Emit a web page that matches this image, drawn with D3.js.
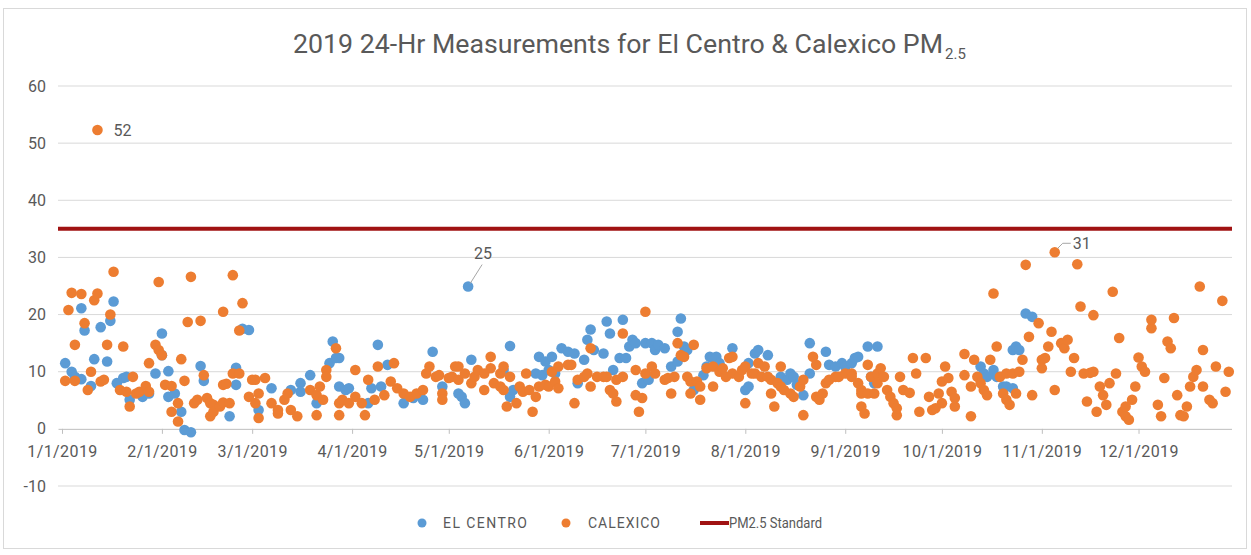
<!doctype html>
<html>
  <head>
    <title>2019 24-Hr Measurements for El Centro & Calexico PM2.5</title>
    <style>
      body { margin: 0; background: #fff; }
      text { font-family: "Roboto", sans-serif; fill: #595959; }
    </style>
  </head>
  <body>
    <div id="chart"></div>
    <script src="https://d3js.org/d3.v7.min.js"></script>
    <script>
      // day offsets from 1/1/2019 and the 24-hr PM2.5 value read for that day
      const elCentroDay = [1, 3, 4, 6, 6, 7, 9, 10, 12, 14, 15, 16, 17, 19, 20, 21, 25, 27, 29, 31, 31, 33, 33, 35, 37, 38, 40, 43, 44, 52,
        54, 54, 56, 58, 61, 65, 71, 74, 74, 77, 79, 83, 84, 85, 86, 86, 88, 89, 95, 96, 98, 99, 101, 106, 109, 112, 115, 118, 123, 124,
        125, 126, 127, 137, 139, 139, 140, 147, 148, 149, 150, 151, 152, 153, 155, 157, 159, 160, 162, 163, 164, 165, 168, 169, 170, 171, 173, 174, 175, 176,
        177, 178, 180, 181, 182, 183, 184, 185, 187, 189, 191, 191, 192, 193, 194, 196, 199, 200, 201, 202, 203, 204, 208, 212, 213, 213, 215, 216, 219, 223,
        225, 226, 227, 228, 230, 232, 232, 237, 238, 240, 242, 243, 245, 246, 247, 250, 251, 252, 253, 285, 286, 287, 289, 290, 292, 293, 295, 295, 296, 297,
        299, 301];
      const elCentroPm = [11.5, 10.0, 9.1, 21.1, 8.7, 17.2, 7.5, 12.2, 17.8, 11.8, 18.9, 22.3, 8.0, 8.9, 9.1, 5.1, 5.6, 6.2, 9.7, 16.7, 12.9, 10.1, 5.6, 6.2, 3.0, -0.2, -0.6, 11.0, 8.4, 2.2,
        7.7, 10.7, 17.5, 17.3, 3.3, 7.1, 6.8, 8.0, 6.5, 9.4, 4.5, 11.5, 15.3, 12.4, 12.4, 7.4, 6.8, 7.1, 4.5, 7.1, 14.7, 7.4, 11.2, 4.5, 5.4, 5.1, 13.5, 7.4, 6.2, 5.6,
        4.5, 24.9, 12.1, 10.3, 14.5, 5.6, 6.8, 9.7, 12.6, 9.4, 11.8, 10.3, 12.6, 9.7, 14.1, 13.5, 13.2, 8.0, 12.1, 15.6, 17.4, 13.8, 13.2, 18.8, 16.7, 10.3, 12.4, 19.1, 12.4, 14.4,
        15.6, 15.0, 8.0, 15.0, 8.6, 15.0, 13.8, 14.7, 14.1, 10.9, 11.8, 17.0, 19.3, 14.4, 13.8, 6.8, 9.4, 10.9, 12.6, 12.4, 12.6, 11.5, 14.1, 6.8, 7.4, 11.5, 13.2, 13.8, 12.9, 9.1,
        8.6, 9.7, 9.1, 7.7, 5.9, 15.0, 9.7, 13.5, 11.2, 10.9, 11.5, 10.9, 11.5, 12.4, 12.6, 14.4, 9.1, 8.0, 14.4, 10.9, 9.7, 9.1, 10.3, 9.1, 7.4, 7.4, 7.1, 13.8, 14.4, 13.8,
        20.2, 19.6];

      const calexicoDay = [1, 2, 3, 4, 4, 6, 7, 8, 9, 10, 11, 11, 12, 13, 14, 15, 16, 18, 19, 20, 21, 22, 23, 24, 26, 27, 27, 29, 30, 30,
        31, 32, 34, 34, 36, 36, 37, 38, 39, 40, 41, 42, 43, 44, 45, 46, 46, 47, 47, 49, 50, 50, 50, 51, 52, 53, 53, 55, 55, 56,
        58, 59, 60, 60, 61, 61, 63, 65, 67, 67, 69, 70, 71, 73, 77, 79, 79, 80, 81, 82, 82, 85, 86, 86, 87, 89, 91, 91, 93, 94,
        95, 97, 98, 100, 102, 103, 104, 106, 108, 110, 112, 113, 114, 116, 117, 118, 118, 120, 121, 122, 123, 123, 125, 127, 128, 129, 131, 131, 133, 133,
        134, 136, 136, 137, 137, 138, 139, 141, 142, 143, 144, 145, 146, 147, 148, 150, 151, 152, 153, 154, 154, 157, 158, 159, 160, 162, 163, 164, 164, 166,
        168, 169, 170, 171, 172, 172, 174, 174, 178, 178, 179, 180, 181, 181, 183, 184, 187, 188, 189, 190, 191, 192, 193, 194, 195, 195, 196, 197, 198, 198,
        200, 202, 202, 204, 205, 206, 207, 208, 208, 210, 211, 212, 212, 214, 215, 216, 217, 218, 219, 220, 220, 221, 222, 223, 223, 224, 226, 227, 229, 230,
        230, 233, 234, 234, 235, 236, 237, 238, 240, 241, 243, 245, 245, 247, 248, 248, 248, 249, 250, 250, 251, 252, 253, 253, 254, 255, 256, 257, 258, 259,
        259, 260, 261, 263, 264, 265, 266, 268, 269, 270, 271, 272, 273, 273, 274, 275, 276, 277, 277, 280, 280, 282, 282, 283, 284, 285, 286, 287, 288, 289,
        290, 291, 292, 293, 293, 294, 295, 296, 297, 298, 299, 300, 301, 303, 304, 304, 305, 306, 307, 308, 308, 310, 311, 312, 313, 314, 315, 316, 317, 318,
        319, 320, 320, 321, 322, 323, 324, 325, 326, 327, 328, 329, 330, 330, 331, 332, 333, 334, 335, 336, 338, 338, 340, 341, 342, 343, 344, 345, 346, 347,
        348, 349, 350, 351, 352, 353, 354, 354, 356, 357, 358, 360, 361, 362];
      const calexicoPm = [8.4, 20.8, 23.8, 14.7, 8.4, 23.6, 18.5, 6.8, 10.0, 22.5, 52.3, 23.7, 8.3, 8.6, 14.7, 20.0, 27.5, 6.8, 14.4, 6.5, 3.9, 9.1, 6.2, 6.5, 7.5, 11.5, 6.5, 14.7, 13.8, 25.7,
        12.9, 7.7, 7.5, 3.0, 4.5, 1.3, 12.2, 8.4, 18.7, 26.6, 4.5, 5.1, 18.9, 9.4, 5.4, 4.5, 2.2, 4.2, 3.0, 3.9, 4.6, 7.7, 20.5, 7.9, 4.5, 26.9, 9.7, 9.7, 17.2, 22.0,
        5.6, 8.6, 4.5, 8.6, 1.9, 6.2, 8.9, 4.5, 3.3, 2.7, 5.1, 6.2, 3.3, 2.2, 6.8, 5.9, 2.4, 7.4, 5.1, 10.3, 9.1, 14.1, 4.5, 2.4, 5.1, 4.5, 10.3, 5.6, 4.5, 2.4,
        8.6, 5.1, 10.9, 5.9, 8.3, 11.5, 7.1, 6.2, 5.6, 6.2, 6.8, 9.7, 10.9, 9.1, 9.4, 6.2, 5.1, 8.9, 9.1, 10.9, 10.9, 8.6, 9.7, 8.0, 9.1, 10.3, 9.7, 6.8, 12.6, 10.6,
        8.0, 9.7, 7.4, 10.9, 6.8, 3.9, 9.1, 4.5, 7.4, 6.5, 9.7, 6.8, 3.0, 5.6, 7.4, 7.7, 7.4, 10.0, 8.3, 7.1, 10.9, 11.2, 11.2, 4.5, 8.6, 9.1, 9.7, 7.4, 14.1, 9.1,
        9.1, 9.1, 6.8, 6.2, 4.8, 8.6, 9.1, 16.7, 5.9, 10.3, 3.0, 5.4, 20.5, 9.7, 10.9, 9.7, 8.6, 8.9, 6.2, 9.1, 15.0, 12.9, 12.6, 9.1, 6.2, 8.3, 14.7, 8.3, 5.1, 7.4,
        10.6, 10.9, 7.4, 10.0, 10.6, 9.1, 12.4, 9.7, 12.6, 9.1, 10.3, 4.5, 10.9, 9.7, 9.7, 11.5, 9.1, 10.9, 9.1, 8.6, 6.2, 3.9, 8.0, 7.4, 10.9, 6.8, 6.2, 5.6, 7.4, 2.4,
        8.6, 12.6, 11.2, 5.6, 5.1, 6.2, 8.0, 8.6, 9.1, 9.1, 9.7, 9.7, 9.1, 8.0, 6.8, 6.2, 3.9, 2.7, 11.2, 6.2, 9.1, 6.2, 9.7, 8.0, 10.6, 9.1, 6.8, 5.6, 4.5, 2.4,
        3.6, 9.1, 6.8, 6.3, 12.4, 9.7, 3.0, 12.4, 5.6, 3.3, 3.6, 6.2, 4.5, 8.3, 10.9, 8.9, 6.5, 3.9, 5.4, 9.4, 13.1, 2.2, 7.4, 12.1, 9.1, 8.0, 6.8, 5.9, 12.1, 23.7,
        14.4, 9.1, 6.2, 9.7, 5.1, 4.2, 9.7, 6.2, 10.0, 12.1, 28.7, 16.1, 5.9, 18.5, 12.1, 10.6, 12.4, 14.4, 17.0, 30.9, 6.8, 15.0, 14.1, 15.6, 10.0, 12.4, 28.8, 21.4, 9.7, 4.8,
        9.8, 10.0, 19.9, 3.0, 7.4, 5.9, 4.2, 8.0, 24.0, 9.7, 15.9, 3.0, 2.2, 3.9, 1.6, 5.1, 7.4, 12.5, 10.9, 10.0, 17.6, 19.1, 4.2, 2.2, 8.9, 15.3, 14.1, 19.4, 5.9, 2.4,
        2.2, 3.9, 7.4, 9.1, 10.3, 24.9, 13.8, 7.4, 5.1, 4.5, 10.9, 22.4, 6.5, 10.0];

      const standardPm = 35;
      const yTicks = [-10, 0, 10, 20, 30, 40, 50, 60];
      const seriesNames = ['EL CENTRO', 'CALEXICO', 'PM2.5 Standard'];
      const seriesColors = ['#5b9bd5', '#ed7d31', '#a01212'];

      const start = new Date(2019, 0, 1);
      const toPoints = (days, vals) => days.map((d, i) => ({ date: d3.timeDay.offset(start, d), value: vals[i] }));
      const elCentro = toPoints(elCentroDay, elCentroPm);
      const calexico = toPoints(calexicoDay, calexicoPm);

      const width = 1251, height = 555;
      const svg = d3.select('#chart').append('svg')
        .attr('width', width)
        .attr('height', height);

      svg.append('rect')
        .attr('x', 3.5).attr('y', 8.5)
        .attr('width', 1243).attr('height', 540)
        .attr('fill', '#fff')
        .attr('stroke', '#d9d9d9');

      const x = d3.scaleTime()
        .domain([start, new Date(2019, 11, 30)])
        .range([62, 1232]);
      const y = d3.scaleLinear()
        .domain([-10, 60])
        .range([486, 86]);

      // gridlines
      svg.append('g')
        .selectAll('line')
        .data(yTicks.filter(t => t !== 0))
        .join('line')
        .attr('x1', 58).attr('x2', 1232)
        .attr('y1', d => y(d)).attr('y2', d => y(d))
        .attr('stroke', '#d9d9d9');

      // y labels
      svg.append('g')
        .selectAll('text')
        .data(yTicks)
        .join('text')
        .attr('x', 46)
        .attr('y', d => y(d))
        .attr('dy', '0.35em')
        .attr('text-anchor', 'end')
        .style('font-size', '16px')
        .text(d => d);

      // x axis along zero
      const xAxis = d3.axisBottom(x)
        .ticks(d3.timeMonth.every(1))
        .tickSize(5)
        .tickPadding(14)
        .tickFormat(d3.timeFormat('%-m/%-d/%Y'));
      const gx = svg.append('g')
        .attr('transform', `translate(0,${y(0)})`)
        .call(xAxis);
      gx.select('.domain').attr('stroke', '#bfbfbf').attr('d', 'M58.5,0.5H1232');
      gx.selectAll('.tick line').attr('stroke', '#bfbfbf');
      gx.selectAll('.tick text')
        .attr('fill', '#595959')
        .attr('y', 17)
        .style('font-size', '16px')
        .style('letter-spacing', '0.4px')
        .style('font-family', 'Roboto, sans-serif');

      // standard line
      svg.append('line')
        .attr('x1', 58).attr('x2', 1232)
        .attr('y1', y(standardPm)).attr('y2', y(standardPm))
        .attr('stroke', seriesColors[2])
        .attr('stroke-width', 4);

      // points
      svg.append('g')
        .selectAll('circle')
        .data(elCentro)
        .join('circle')
        .attr('cx', d => x(d.date))
        .attr('cy', d => y(d.value))
        .attr('r', 5.3)
        .attr('fill', seriesColors[0]);

      svg.append('g')
        .selectAll('circle')
        .data(calexico)
        .join('circle')
        .attr('cx', d => x(d.date))
        .attr('cy', d => y(d.value))
        .attr('r', 5.3)
        .attr('fill', seriesColors[1]);

      // data labels on the peaks
      const maxCal = calexico.reduce((a, b) => (b.value > a.value ? b : a));
      svg.append('text')
        .attr('x', x(maxCal.date) + 16).attr('y', y(maxCal.value))
        .attr('dy', '0.35em')
        .style('font-size', '16px').attr('fill', '#404040')
        .text(Math.round(maxCal.value));

      const maxEl = elCentro.reduce((a, b) => (b.value > a.value ? b : a));
      svg.append('line')
        .attr('x1', x(maxEl.date) + 2).attr('y1', y(maxEl.value) - 3)
        .attr('x2', x(maxEl.date) + 14).attr('y2', y(maxEl.value) - 22)
        .attr('stroke', '#a6a6a6');
      svg.append('text')
        .attr('x', x(maxEl.date) + 15).attr('y', y(maxEl.value) - 33)
        .attr('dy', '0.35em')
        .attr('text-anchor', 'middle')
        .style('font-size', '16px').attr('fill', '#404040')
        .text(Math.round(maxEl.value));

      const lateCal = calexico.filter(d => d.date > new Date(2019, 9, 1))
        .reduce((a, b) => (b.value > a.value ? b : a));
      svg.append('path')
        .attr('d', `M${x(lateCal.date) + 3},${y(lateCal.value) - 4}L${x(lateCal.date) + 8},${y(lateCal.value) - 9}H${x(lateCal.date) + 16}`)
        .attr('fill', 'none')
        .attr('stroke', '#a6a6a6');
      svg.append('text')
        .attr('x', x(lateCal.date) + 18).attr('y', y(lateCal.value) - 9)
        .attr('dy', '0.35em')
        .style('font-size', '16px').attr('fill', '#404040')
        .text(Math.round(lateCal.value));

      // title
      svg.append('text')
        .attr('x', 293).attr('y', 53)
        .attr('textLength', 650)
        .attr('lengthAdjust', 'spacingAndGlyphs')
        .style('font-size', '25px')
        .text('2019 24-Hr Measurements for El Centro & Calexico PM');
      svg.append('text')
        .attr('x', 945).attr('y', 59)
        .style('font-size', '15px')
        .text('2.5');

      // legend
      const legend = svg.append('g').attr('transform', 'translate(0,523)');
      legend.append('circle').attr('cx', 422).attr('cy', 0).attr('r', 4.5).attr('fill', seriesColors[0]);
      legend.append('text').attr('x', 443).attr('dy', '0.35em').attr('textLength', 84).style('font-size', '14px').text(seriesNames[0]);
      legend.append('circle').attr('cx', 566).attr('cy', 0).attr('r', 4.5).attr('fill', seriesColors[1]);
      legend.append('text').attr('x', 588).attr('dy', '0.35em').attr('textLength', 72).style('font-size', '14px').text(seriesNames[1]);
      legend.append('line').attr('x1', 700).attr('x2', 729).attr('y1', 0).attr('y2', 0)
        .attr('stroke', seriesColors[2]).attr('stroke-width', 4);
      legend.append('text').attr('x', 729).attr('dy', '0.35em').attr('textLength', 93)
        .attr('lengthAdjust', 'spacingAndGlyphs').style('font-size', '14px').text(seriesNames[2]);
    </script>
  </body>
</html>
